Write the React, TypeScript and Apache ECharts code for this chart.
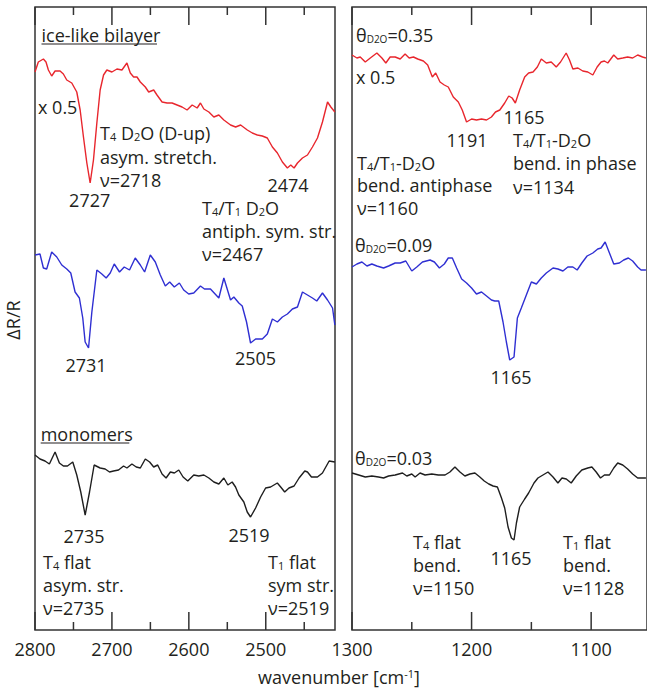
import React, { useEffect, useRef } from "react";
import * as echarts from "echarts";

const FONT = "'Open Sans', sans-serif";
const INK = "#231f20";

// ---------- Left panel: O-D stretch region (cm-1) ----------
const stretchTicksMajor = [2800, 2700, 2600, 2500];
const stretchTicksMinor = [2750, 2650, 2550, 2450];

// ice-like bilayer (x 0.5), red
const bilayerStretchWn = [2800, 2795.7, 2789.1, 2785.7, 2782.6, 2778.3, 2773.9, 2767.4, 2763.1, 2758.7, 2752.2, 2745.7, 2741.3, 2737, 2732.6, 2728.3, 2724, 2719.6, 2715.3, 2710.9, 2706.6, 2700, 2693.5, 2687, 2680.5, 2676.1, 2671.8, 2667.4, 2663.1, 2656.6, 2652.2, 2645.7, 2641.4, 2634.8, 2628.3, 2621.8, 2615.3, 2608.8, 2602.3, 2595.7, 2589.2, 2584.9, 2580.5, 2574, 2567.5, 2561, 2554.5, 2545.8, 2539.2, 2532.7, 2524, 2517.5, 2511, 2504.5, 2498, 2491.4, 2484.9, 2478.4, 2471.9, 2467.5, 2463.2, 2458.8, 2452.3, 2445.8, 2439.3, 2432.8, 2426.3, 2419.7, 2415.4, 2410.2];
const bilayerStretchVal = [558, 568, 571, 568, 560, 554, 559, 559, 556, 550, 547, 538, 520, 493, 467, 447, 470, 507, 540, 555, 560, 558, 561, 560, 567, 557, 553, 553, 548, 543, 538, 540, 535, 528, 527, 527, 525, 523, 520, 525, 522, 527, 521, 518, 513, 515, 510, 505, 503, 505, 500, 497, 495, 494, 492, 483, 477, 468, 462, 465, 462, 467, 472, 475, 483, 492, 508, 528, 523, 518];

// intermediate coverage, blue
const midStretchWn = [2800, 2793.5, 2789.1, 2784.8, 2778.3, 2771.7, 2765.2, 2758.7, 2753.5, 2747.9, 2742.3, 2737.9, 2734.8, 2730.4, 2726.1, 2719.6, 2713.1, 2707.5, 2702.2, 2697, 2690.1, 2684, 2677.1, 2669.7, 2663.1, 2657.5, 2650.1, 2643.6, 2637.1, 2630.6, 2624.9, 2618.9, 2612.3, 2606.7, 2600.2, 2593.6, 2584.9, 2579.7, 2571.9, 2561, 2554.5, 2545.8, 2541.5, 2535, 2530.6, 2525, 2519.8, 2513.2, 2504.5, 2498, 2491.4, 2484.9, 2478.4, 2471.9, 2465.4, 2458.8, 2452.3, 2445.8, 2439.3, 2433.7, 2426.3, 2419.7, 2413.2, 2410.2];
const midStretchVal = [375, 376, 362, 361, 378, 373, 365, 361, 357, 338, 332, 312, 288, 282, 318, 360, 356, 352, 357, 366, 358, 363, 360, 372, 365, 358, 375, 368, 355, 344, 348, 343, 347, 340, 336, 337, 344, 341, 341, 332, 352, 330, 333, 327, 324, 308, 287, 291, 291, 296, 311, 308, 313, 316, 321, 323, 338, 335, 332, 329, 337, 330, 322, 305];

// monomers, black
const monoStretchWn = [2800, 2793.5, 2787, 2781.3, 2773.9, 2768.3, 2763.1, 2757.8, 2750.9, 2745.7, 2740.5, 2734.8, 2729.1, 2723.1, 2715.3, 2708.8, 2703.1, 2697.9, 2691.4, 2684.9, 2680.5, 2674, 2668.4, 2663.1, 2656.6, 2651, 2645.7, 2640.5, 2634.8, 2629.6, 2624, 2618.8, 2613.1, 2607.5, 2601.4, 2593.6, 2587.1, 2580.5, 2574, 2567.5, 2561, 2554.5, 2549.3, 2543.7, 2539.3, 2535, 2528.5, 2524.1, 2519.8, 2513.2, 2506.7, 2500.2, 2493.7, 2485, 2480.6, 2475.4, 2469.8, 2463.2, 2456.7, 2449.3, 2445.8, 2440.6, 2432.8, 2426.3, 2417.6, 2410.2];
const monoStretchVal = [175, 171, 169, 166, 178, 167, 164, 164, 168, 155, 138, 115, 138, 165, 162, 161, 158, 159, 160, 164, 162, 166, 163, 162, 171, 168, 163, 165, 156, 152, 158, 157, 160, 153, 149, 155, 154, 155, 152, 148, 146, 152, 145, 148, 143, 135, 128, 118, 113, 122, 133, 142, 143, 147, 143, 138, 142, 144, 152, 159, 158, 153, 153, 157, 169, 168];

// ---------- Right panel: D2O bending region (cm-1) ----------
const bendTicksMajor = [1300, 1200, 1100];
const bendTicksMinor = [1250, 1150];

// theta = 0.35 (x 0.5), red
const bend035Wn = [1300, 1295.9, 1293.1, 1288.9, 1284.7, 1279.2, 1275, 1271.7, 1268.1, 1263.9, 1259.7, 1255.6, 1252.2, 1248.6, 1245, 1240.3, 1236.7, 1232.8, 1230, 1226.4, 1222.8, 1219.5, 1215.3, 1211.1, 1207.8, 1204.2, 1200, 1195.9, 1191.7, 1187.5, 1183.4, 1180, 1176.4, 1172.3, 1168.9, 1166.1, 1163.4, 1159.8, 1155.6, 1152.3, 1148.6, 1145, 1141.7, 1137.5, 1133.4, 1129.2, 1125.6, 1120.9, 1118.1, 1115.3, 1111.1, 1107, 1102.8, 1098.6, 1095, 1091.7, 1088.9, 1086.1, 1081.1, 1077.8, 1073.6, 1069.5, 1065.3, 1061.1, 1057, 1054.2];
const bend035Val = [575, 572, 573, 568, 572, 577, 572, 567, 573, 573, 571, 576, 572, 573, 571, 569, 565, 553, 557, 548, 545, 543, 533, 528, 520, 508, 511, 510, 511, 510, 513, 518, 520, 527, 534, 532, 527, 540, 553, 557, 558, 563, 571, 567, 568, 563, 568, 577, 570, 561, 562, 559, 558, 555, 563, 568, 569, 567, 575, 571, 572, 573, 572, 575, 573, 572];

// theta = 0.09, blue
const bend009Wn = [1300, 1295.9, 1291.7, 1287.5, 1283.4, 1279.2, 1273.6, 1269.4, 1263.9, 1259.7, 1255, 1250, 1245.8, 1241.1, 1234.7, 1231.1, 1226.9, 1222.8, 1219.5, 1216.1, 1212.5, 1208.3, 1204.2, 1200, 1195.9, 1191.7, 1187.5, 1183.4, 1180.6, 1177.3, 1173.7, 1170.9, 1168.1, 1164.5, 1161.7, 1158.4, 1154.2, 1150, 1145.8, 1141.7, 1137.5, 1131.9, 1127.8, 1123.6, 1119.5, 1115.3, 1111.7, 1107.8, 1103.4, 1098.6, 1094.5, 1091.7, 1088.3, 1084.7, 1081.1, 1076.4, 1072.8, 1068.9, 1065.3, 1061.1, 1058.3, 1054.2];
const bend009Val = [363, 366, 368, 364, 366, 364, 362, 364, 367, 367, 369, 359, 363, 368, 370, 368, 362, 366, 372, 372, 362, 351, 347, 342, 336, 338, 334, 330, 329, 329, 308, 288, 270, 273, 312, 322, 335, 348, 346, 352, 357, 362, 361, 359, 363, 363, 360, 367, 374, 377, 381, 382, 388, 377, 366, 367, 370, 372, 369, 363, 360, 360];

// theta = 0.03, black
const bend003Wn = [1300, 1294.4, 1288.9, 1283.4, 1277.8, 1273.6, 1269.4, 1263.9, 1257.8, 1254.2, 1250, 1247.2, 1243.1, 1238.9, 1233.3, 1227.8, 1222.2, 1218.1, 1213.9, 1209.7, 1205.6, 1201.4, 1197.2, 1193.1, 1189.4, 1185.6, 1182, 1178.4, 1175, 1172.3, 1169.5, 1166.7, 1164.5, 1162.5, 1159.8, 1155.6, 1152.3, 1147.8, 1144.5, 1140.3, 1136.1, 1131.9, 1127.8, 1124.4, 1120.8, 1116.7, 1112.5, 1107.8, 1102.8, 1099.4, 1095.8, 1092.2, 1088.9, 1084.7, 1081.1, 1077.8, 1073.6, 1069.5, 1065.3, 1061.1, 1054.2];
const bend003Val = [157, 155, 153, 154, 153, 152, 154, 155, 157, 154, 156, 153, 157, 155, 156, 155, 155, 158, 163, 158, 154, 156, 157, 153, 149, 146, 144, 143, 132, 122, 103, 92, 90, 107, 123, 131, 137, 147, 152, 155, 158, 153, 147, 152, 151, 147, 154, 160, 162, 163, 158, 152, 155, 155, 162, 167, 165, 161, 156, 152, 152];

const RED = "#e8262d";
const BLUE = "#2f2fd2";
const BLACK = "#1e1e1e";
const FRAME = "#333333";

// vertical data range (arbitrary ΔR/R units, offset traces)
const Y_MIN = 0;
const Y_MAX = 623;
const MAJOR_TICK = 18; // in y units
const MINOR_TICK = 8;

const zip = (xs: number[], ys: number[]) => {
  const n = Math.min(xs.length, ys.length);
  const out: number[][] = [];
  for (let i = 0; i < n; i++) out.push([xs[i], ys[i]]);
  return out;
};

const rich = {
  n: { fontSize: 18, fontFamily: FONT, lineHeight: 18, fill: INK },
  s: { fontSize: 11, fontFamily: FONT, lineHeight: 10, verticalAlign: "bottom", fill: INK },
  t: { fontSize: 10, fontFamily: FONT, lineHeight: 1, verticalAlign: "bottom", fill: INK },
  p: { fontSize: 11, fontFamily: FONT, lineHeight: 9, verticalAlign: "top", fill: INK },
};

const txt = (text: string, x: number, y: number, align = "left") => ({
  type: "text",
  x,
  y,
  style: { text, rich, align, verticalAlign: "middle", fill: INK, font: `18px ${FONT}` },
});
const plain = (s: string) => `{n|${s}}`;

export default function App() {
  const ref = useRef<HTMLDivElement>(null);
  useEffect(() => {
    if (!ref.current) return;
    const chart = echarts.init(ref.current, undefined, { renderer: "svg" });

    const mkX = (grid: number, min: number, max: number, labels: number[]) => ({
      type: "value",
      gridIndex: grid,
      min,
      max,
      inverse: true,
      position: "bottom",
      axisLine: { show: false },
      splitLine: { show: false },
      axisTick: { show: false },
      axisLabel: {
        show: true,
        customValues: labels,
        fontSize: 18,
        fontFamily: FONT,
        color: INK,
        margin: 10,
        formatter: (v: number) => String(v),
      },
    });

    const L = [2410, 2800];
    const R = [1053.3, 1300];

    const line = (name: string, data: number[][], color: string, gi: number, width = 1.4) => ({
      name,
      type: "line",
      xAxisIndex: gi,
      yAxisIndex: gi,
      data,
      showSymbol: false,
      symbol: "none",
      clip: false,
      lineStyle: { color, width },
    });

    // inward tick marks on bottom and top frame edges, as short line segments
    const tickSeries: any[] = [];
    const addTicks = (gi: number, vals: number[], len: number) => {
      vals.forEach((v) => {
        tickSeries.push(line(`tick-b-${v}`, [[v, Y_MIN], [v, Y_MIN + len]], FRAME, gi, 1.5));
        tickSeries.push(line(`tick-t-${v}`, [[v, Y_MAX], [v, Y_MAX - len]], FRAME, gi, 1.5));
      });
    };
    addTicks(0, stretchTicksMajor, MAJOR_TICK);
    addTicks(0, stretchTicksMinor, MINOR_TICK);
    addTicks(1, bendTicksMajor, MAJOR_TICK);
    addTicks(1, bendTicksMinor, MINOR_TICK);

    const texts: any[] = [
      // left panel
      txt(plain("ice-like bilayer"), 41.5, 35),
      { type: "line", shape: { x1: 41.5, y1: 44, x2: 157, y2: 44 }, style: { stroke: INK, lineWidth: 1.2 } },
      txt(plain("x 0.5"), 38, 107),
      txt("{n|T}{s|4}{n| D}{s|2}{n|O (D-up)}", 100, 133),
      txt(plain("asym. stretch."), 100, 157),
      txt(plain("ν=2718"), 100, 180),
      txt(plain("2727"), 89.7, 200, "center"),
      txt(plain("2474"), 288, 185, "center"),
      txt("{n|T}{s|4}{n|/T}{s|1}{n| D}{s|2}{n|O}", 202, 208),
      txt(plain("antiph. sym. str."), 202, 231),
      txt(plain("ν=2467"), 202, 254),
      txt(plain("2731"), 86, 365, "center"),
      txt(plain("2505"), 255.5, 358, "center"),
      txt(plain("monomers"), 40.7, 434),
      { type: "line", shape: { x1: 40.7, y1: 443, x2: 129.3, y2: 443 }, style: { stroke: INK, lineWidth: 1.2 } },
      txt(plain("2735"), 84, 536, "center"),
      txt(plain("2519"), 249, 535, "center"),
      txt("{n|T}{s|4}{n| flat}", 43, 562),
      txt(plain("asym. str."), 43, 585),
      txt(plain("ν=2735"), 43, 608),
      txt("{n|T}{s|1}{n| flat}", 268, 562),
      txt(plain("sym str."), 268, 585),
      txt(plain("ν=2519"), 268, 608),
      // right panel
      txt("{n|θ}{t|D2O}{n|=0.35}", 356, 35),
      txt(plain("x 0.5"), 356, 77),
      txt(plain("1165"), 524, 117, "center"),
      txt(plain("1191"), 467, 140, "center"),
      txt("{n|T}{s|4}{n|/T}{s|1}{n|-D}{s|2}{n|O}", 513, 140),
      txt(plain("bend. in phase"), 513, 163),
      txt(plain("ν=1134"), 513, 187),
      txt("{n|T}{s|4}{n|/T}{s|1}{n|-D}{s|2}{n|O}", 357, 163),
      txt(plain("bend. antiphase"), 357, 185),
      txt(plain("ν=1160"), 357, 208),
      txt("{n|θ}{t|D2O}{n|=0.09}", 355, 245),
      txt(plain("1165"), 511, 377, "center"),
      txt("{n|θ}{t|D2O}{n|=0.03}", 355, 458),
      txt("{n|T}{s|4}{n| flat}", 413, 542),
      txt(plain("bend."), 413, 565),
      txt(plain("ν=1150"), 413, 588),
      txt(plain("1165"), 511, 558, "center"),
      txt("{n|T}{s|1}{n| flat}", 563, 542),
      txt(plain("bend."), 563, 565),
      txt(plain("ν=1128"), 563, 588),
      // axis titles
      { ...txt(plain("ΔR/R"), 13, 320, "center"), rotation: Math.PI / 2 },
      txt("{n|wavenumber [cm}{p|-1}{n|]}", 339, 677, "center"),
    ];

    chart.setOption({
      animation: false,
      grid: [
        { left: 35, top: 7, width: 300, height: 623, show: true, borderColor: FRAME, borderWidth: 1.5 },
        { left: 352, top: 7, width: 296, height: 623, show: true, borderColor: FRAME, borderWidth: 1.5 },
      ],
      xAxis: [mkX(0, L[0], L[1], stretchTicksMajor), mkX(1, R[0], R[1], bendTicksMajor)],
      yAxis: [
        { type: "value", gridIndex: 0, min: Y_MIN, max: Y_MAX, show: false },
        { type: "value", gridIndex: 1, min: Y_MIN, max: Y_MAX, show: false },
      ],
      series: [
        line("ice-like bilayer", zip(bilayerStretchWn, bilayerStretchVal), RED, 0),
        line("intermediate", zip(midStretchWn, midStretchVal), BLUE, 0),
        line("monomers", zip(monoStretchWn, monoStretchVal), BLACK, 0),
        line("θ=0.35", zip(bend035Wn, bend035Val), RED, 1),
        line("θ=0.09", zip(bend009Wn, bend009Val), BLUE, 1),
        line("θ=0.03", zip(bend003Wn, bend003Val), BLACK, 1),
        ...tickSeries,
      ],
      graphic: texts,
    });
    return () => chart.dispose();
  }, []);
  return <div ref={ref} style={{ position: "fixed", left: 0, top: 0, width: 647, height: 688, background: "#fff" }} />;
}
